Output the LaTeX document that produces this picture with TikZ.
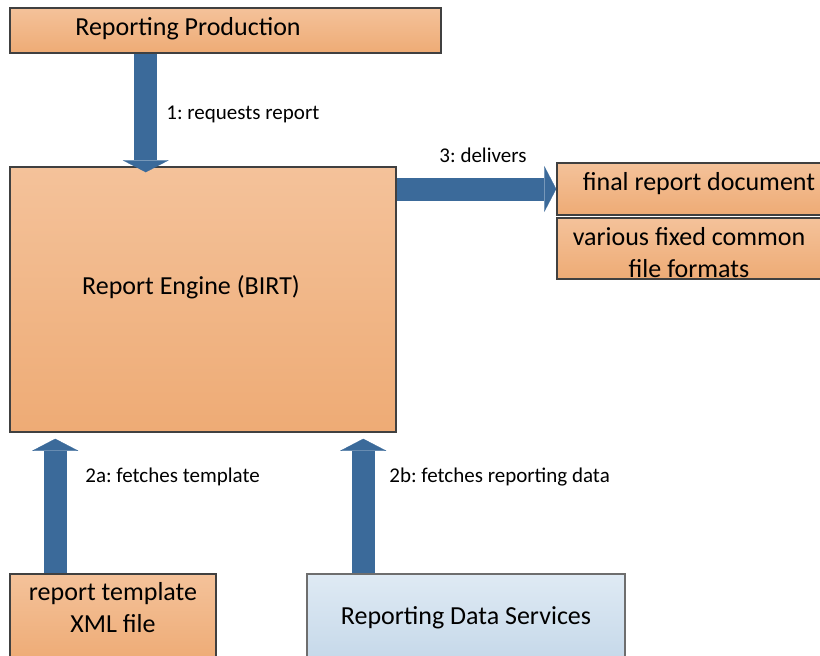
\documentclass[tikz,border=0pt]{standalone}
\usepackage{fontspec}
\setmainfont{Carlito}
\usetikzlibrary{arrows.meta,fit,calc}
\frenchspacing
\definecolor{peachtop}{RGB}{244,194,154}
\definecolor{peachbot}{RGB}{238,171,117}
\definecolor{boxline}{RGB}{64,64,64}
\definecolor{skytop}{RGB}{223,234,244}
\definecolor{skybot}{RGB}{197,216,233}
\definecolor{skyline}{RGB}{110,110,110}
\definecolor{flowblue}{RGB}{59,106,154}
\tikzset{
  box/.style={draw=boxline, line width=0.75pt, inner sep=0pt,
    top color=peachtop, bottom color=peachbot},
  databox/.style={box, draw=skyline, top color=skytop, bottom color=skybot},
  boxtext/.style={inner sep=0pt, align=center, font=\fontsize{13}{16}\selectfont},
  flowtext/.style={inner sep=0pt, font=\fontsize{10.5}{12}\selectfont},
  flow/.style={draw=flowblue, line width=11.5pt,
    -{Triangle[length=6pt,width=23pt,line width=0.1pt]}}
}
\begin{document}
\begin{tikzpicture}[x=0.5pt,y=-0.5pt]
    \useasboundingbox (0,0) rectangle (820,655);
    % boxes
    \node [box, fit={(10,8) (441,53)}] (prod) {};
    \node [box, fit={(10,167) (396,432)}] (engine) {};
    \node [box, fit={(557,163) (824,215)}] (final) {};
    \node [box, fit={(557,218) (824,279)}] (formats) {};
    \node [box, fit={(10,574) (216,662)}] (template) {};
    \node [databox, fit={(307,574) (625,662)}] (data) {};
    % box texts
    \node [boxtext] (prod-t) at (188,29) {Reporting Production};
    \node [boxtext] (engine-t) at (191,287) {Report Engine (BIRT)};
    \node [boxtext] (final-t) at (699,184) {final report document};
    \node [boxtext] (formats-t) at (689,253) {various fixed common\\file formats};
    \node [boxtext] (template-t) at (113,608) {report template\\XML file};
    \node [boxtext] (data-t) at (466,618) {Reporting Data Services};
    % flows
    \draw [flow] ($(prod.south west)+(136.5,0)$) -- ($(engine.north west)+(136.5,6)$);
    \draw [flow] (engine.east |- final.west) -- (final.west);
    \draw [flow] ($(template.north west)+(46,0)$) -- ($(engine.south west)+(46,6)$);
    \draw [flow] ($(data.north west)+(57,0)$) -- ($(engine.south west)+(354,6)$);
    % flow labels
    \node [flowtext, anchor=west] (req) at (166,114) {1: requests report};
    \node [flowtext] (deliv) at (483,155) {3: delivers};
    \node [flowtext, anchor=west] (fetcht) at (85,477) {2a: fetches template};
    \node [flowtext, anchor=west] (fetchd) at (389,477) {2b: fetches reporting data};
\end{tikzpicture}
\end{document}
